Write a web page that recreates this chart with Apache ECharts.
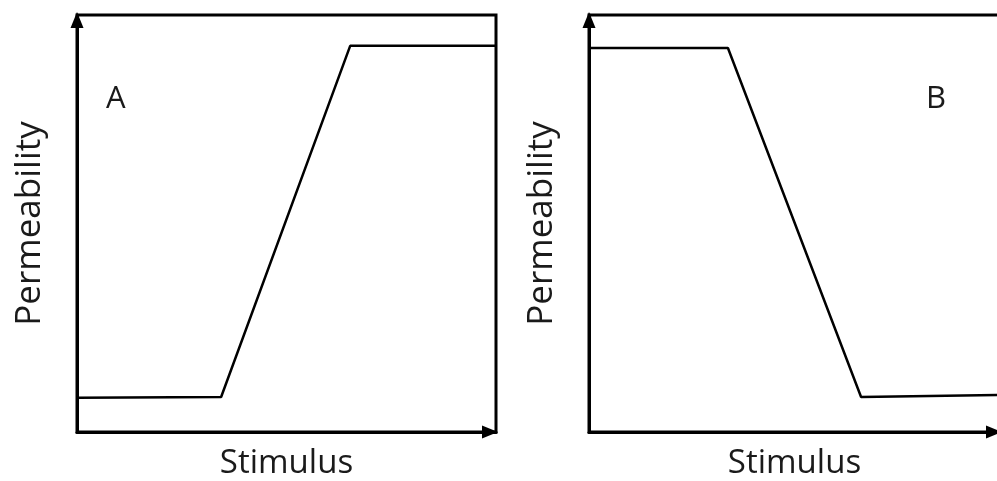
<!DOCTYPE html>
<html>
<head>
<meta charset="utf-8">
<script src="https://cdn.jsdelivr.net/npm/echarts@6/dist/echarts.min.js"></script>
<style>
    html, body { margin: 0; padding: 0; background: #fff; }
    #main { width: 997px; height: 481px; }
</style>
</head>
<body>
<div id="main"></div>
<script>
// 数据：两个面板，刺激强度 -> 通透性
var stimA = [0, 34.4, 65.2, 100];
var permA = [8.2, 8.4, 92.6, 92.6];
var stimB = [0, 33.8, 66.2, 100];
var permB = [92.1, 92.1, 8.4, 8.9];
var xName = 'Stimulus';
var yName = 'Permeability';
var panelLabels = ['A', 'B'];

function pairs(xs, ys) {
    return xs.map(function (x, i) { return [x, ys[i]]; });
}

var textColor = '#1a1a1a';
var font = '"Open Sans", sans-serif';

function xAxisFor(idx) {
    return {
        gridIndex: idx, type: 'value', min: 0, max: 100,
        name: xName, nameLocation: 'middle', nameGap: 15,
        nameTextStyle: { fontSize: 33, color: textColor, fontFamily: font },
        axisLine: { show: true, lineStyle: { color: '#000', width: 3 },
                    symbol: ['none', 'triangle'], symbolSize: [13, 16], symbolOffset: [0, -6] },
        axisTick: { show: false }, axisLabel: { show: false }, splitLine: { show: false }
    };
}
function yAxisFor(idx) {
    return {
        gridIndex: idx, type: 'value', min: 0, max: 100,
        name: yName, nameLocation: 'middle', nameGap: 29,
        nameTextStyle: { fontSize: 35, color: textColor, fontFamily: font },
        axisLine: { show: true, lineStyle: { color: '#000', width: 3 },
                    symbol: ['none', 'triangle'], symbolSize: [13, 16], symbolOffset: [0, -5] },
        axisTick: { show: false }, axisLabel: { show: false }, splitLine: { show: false }
    };
}

var myChart = echarts.init(document.getElementById('main'));
var option = {
    backgroundColor: '#fff',
    animation: false,
    grid: [
        { left: 77, top: 15, width: 419, height: 417, outerBoundsMode: 'none',
          show: true, borderColor: '#000', borderWidth: 3 },
        { left: 589, top: 15, width: 411, height: 417, outerBoundsMode: 'none',
          show: true, borderColor: '#000', borderWidth: 3 }
    ],
    xAxis: [xAxisFor(0), xAxisFor(1)],
    yAxis: [yAxisFor(0), yAxisFor(1)],
    graphic: [
        { type: 'text', left: 106, top: 84, style: { text: panelLabels[0], fontSize: 31, fill: textColor, fontFamily: font } },
        { type: 'text', left: 926, top: 84, style: { text: panelLabels[1], fontSize: 31, fill: textColor, fontFamily: font } }
    ],
    series: [
        {
            type: 'line', xAxisIndex: 0, yAxisIndex: 0,
            data: pairs(stimA, permA), symbol: 'none',
            lineStyle: { color: '#000', width: 2.5 }
        },
        {
            type: 'line', xAxisIndex: 1, yAxisIndex: 1,
            data: pairs(stimB, permB), symbol: 'none',
            lineStyle: { color: '#000', width: 2.5 }
        }
    ]
};
myChart.setOption(option);
</script>
</body>
</html>
